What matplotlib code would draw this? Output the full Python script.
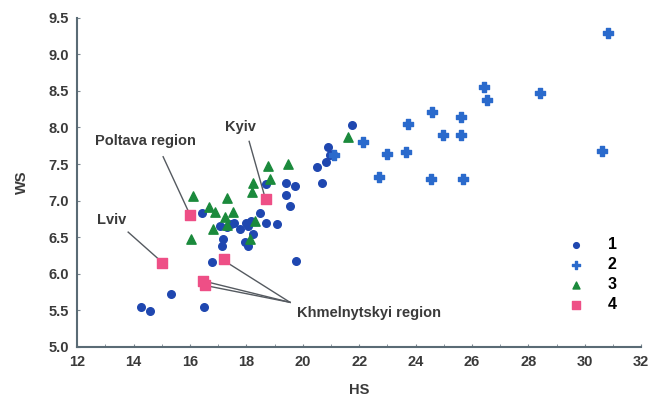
import matplotlib.pyplot as plt

# group 1: blue circles
hs1 = [14.26, 14.59, 15.33, 16.5, 16.78, 19.76, 16.42, 17.13, 17.17, 17.05, 17.45,
       17.78, 17.99, 18.07, 17.96, 18.07, 18.25, 18.49, 18.70, 19.08, 19.55, 18.69,
       19.40, 19.71, 19.40, 17.30, 17.55, 18.15, 21.76, 20.91, 21.09, 20.95, 20.83,
       20.52, 20.68]
ws1 = [5.54, 5.49, 5.72, 5.54, 6.16, 6.18, 6.83, 6.38, 6.48, 6.65, 6.68,
       6.61, 6.70, 6.65, 6.44, 6.38, 6.54, 6.83, 6.70, 6.68, 6.93, 7.23,
       7.24, 7.20, 7.08, 6.64, 6.69, 6.72, 8.03, 7.73, 7.64, 7.62, 7.53,
       7.46, 7.24]

# group 2: blue crosses
hs2 = [30.81, 26.43, 26.55, 28.42, 24.60, 25.61, 23.72, 24.99, 25.61, 22.12,
       22.98, 23.67, 30.61, 22.71, 24.55, 25.68, 21.10]
ws2 = [9.29, 8.56, 8.37, 8.47, 8.21, 8.14, 8.05, 7.90, 7.90, 7.80,
       7.64, 7.67, 7.68, 7.32, 7.29, 7.30, 7.62]

# group 3: green triangles
hs3 = [16.10, 17.30, 16.03, 18.78, 19.46, 18.84, 18.25, 18.19, 16.68, 16.89,
       17.54, 17.25, 16.82, 17.30, 18.31, 18.14, 21.60]
ws3 = [7.06, 7.04, 6.48, 7.47, 7.50, 7.30, 7.24, 7.12, 6.91, 6.85,
       6.85, 6.77, 6.61, 6.67, 6.72, 6.48, 7.87]

# group 4: pink squares (named regions)
hs4 = [15.0, 16.0, 18.7, 17.2, 16.45, 16.55]
ws4 = [6.15, 6.80, 7.02, 6.20, 5.90, 5.85]

plt.rcParams['font.family'] = ['Liberation Sans', 'DejaVu Sans']
txt = '#3a3a3a'
fs = 10.5

fig = plt.figure(figsize=(6.59, 4.03), dpi=100)
ax = fig.add_axes([0.117, 0.139, 0.856, 0.817])

ax.scatter(hs1, ws1, marker='o', s=30, color='#1f47b0', label='1', zorder=3)
ax.scatter(hs2, ws2, marker='P', s=50, color='#2a6acc', label='2', zorder=3)
ax.scatter(hs3, ws3, marker='^', s=45, color='#1b8a3c', label='3', zorder=4)
ax.scatter(hs4, ws4, marker='s', s=55, color='#ee4f86', label='4', zorder=5)

lc = '#555a60'
ax.text(14.41, 7.81, 'Poltava region', ha='center', va='center', fontsize=fs,
        fontweight='bold', color=txt)
ax.plot([15.05, 15.95], [7.60, 6.85], color=lc, lw=1, zorder=2)
ax.text(17.78, 8.0, 'Kyiv', ha='center', va='center', fontsize=fs,
        fontweight='bold', color=txt)
ax.plot([18.1, 18.65], [7.81, 7.06], color=lc, lw=1, zorder=2)
ax.text(13.24, 6.73, 'Lviv', ha='center', va='center', fontsize=fs,
        fontweight='bold', color=txt)
ax.plot([13.81, 14.95], [6.57, 6.18], color=lc, lw=1, zorder=2)
ax.text(19.8, 5.46, 'Khmelnytskyi region', ha='left', va='center', fontsize=fs,
        fontweight='bold', color=txt)
for x, y in [(17.25, 6.17), (16.5, 5.90), (16.55, 5.84)]:
    ax.plot([19.55, x], [5.61, y], color=lc, lw=1, zorder=2)

ax.set_xlim(12, 32)
ax.set_ylim(5.0, 9.5)
ax.set_xticks(range(12, 33, 2))
ax.set_xticks(range(13, 32, 2), minor=True)
ax.set_yticks([5.0, 5.5, 6.0, 6.5, 7.0, 7.5, 8.0, 8.5, 9.0, 9.5])
ax.set_yticklabels(['5.0', '5.5', '6.0', '6.5', '7.0', '7.5', '8.0', '8.5', '9.0', '9.5'])
ax.tick_params(which='both', direction='in', length=2, color='#7a8790',
               labelsize=fs, labelcolor=txt, pad=6)
for lab in ax.get_xticklabels() + ax.get_yticklabels():
    lab.set_fontweight('bold')

for side in ['top', 'right']:
    ax.spines[side].set_visible(False)
for side in ['left', 'bottom']:
    ax.spines[side].set_color('#5a6b75')
    ax.spines[side].set_linewidth(1.5)

ax.set_xlabel('HS', fontsize=fs, fontweight='bold', color=txt, labelpad=10)
ax.set_ylabel('WS', fontsize=fs, fontweight='bold', color=txt, labelpad=14)

ax.legend(loc='center left', bbox_to_anchor=(0.83, 0.22), frameon=False,
          handletextpad=1.0, labelspacing=0.3, markerscale=0.75,
          prop={'size': 11.5, 'weight': 'bold'})

fig.savefig('out.png', dpi=100)
